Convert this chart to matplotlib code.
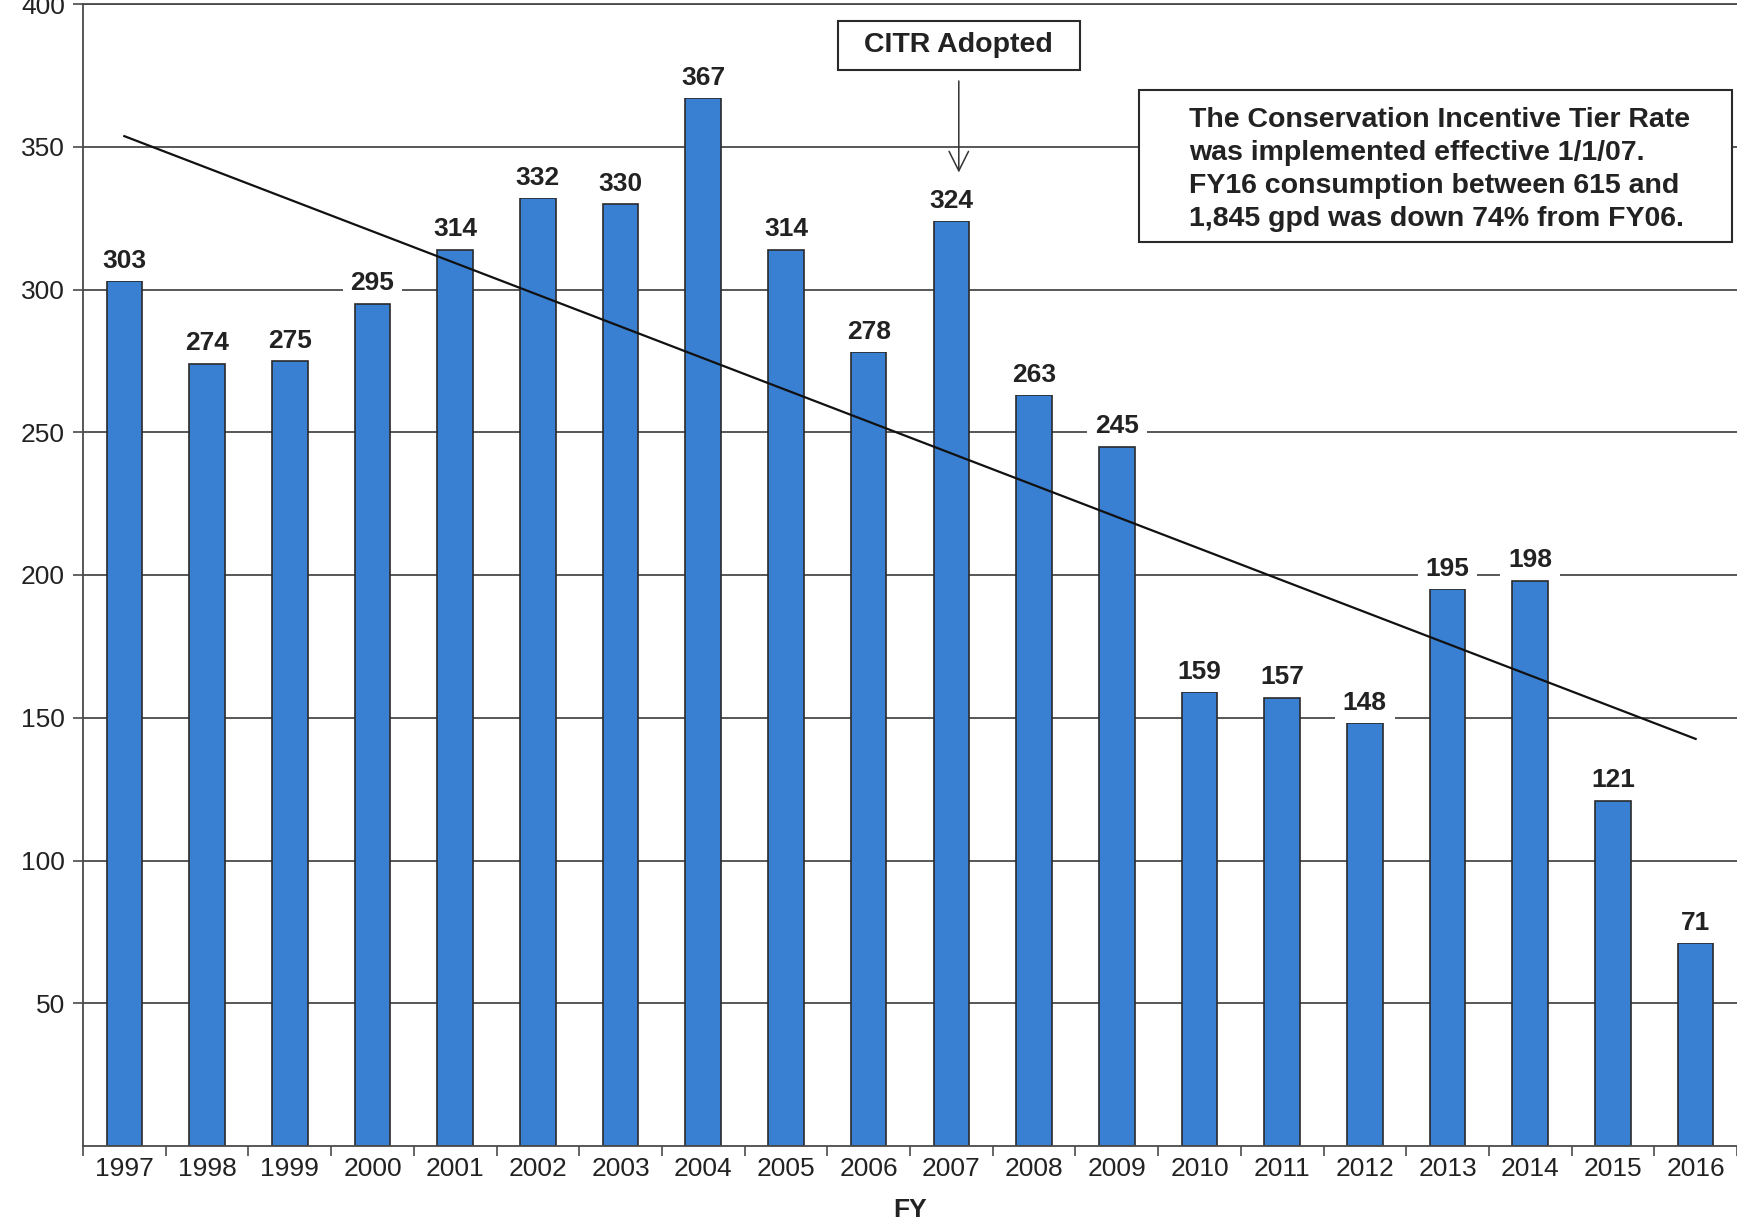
import matplotlib
matplotlib.use("Agg")
import matplotlib.pyplot as plt
from matplotlib.patches import Rectangle
import numpy as np

years = ["1997", "1998", "1999", "2000", "2001", "2002", "2003", "2004", "2005", "2006",
         "2007", "2008", "2009", "2010", "2011", "2012", "2013", "2014", "2015", "2016"]
values = [303, 274, 275, 295, 314, 332, 330, 367, 314, 278,
          324, 263, 245, 159, 157, 148, 195, 198, 121, 71]
yticks = [50, 100, 150, 200, 250, 300, 350, 400]

plt.rcParams['font.family'] = ['Liberation Sans', 'DejaVu Sans']

fig = plt.figure(figsize=(17.37, 12.22), dpi=100)
ax = fig.add_axes([83/1737, 76/1222, (1737-83)/1737, (1146-4)/1222])

x = np.arange(len(years))
gridc = '#4a4a4a'
ax.set_axisbelow(True)
ax.yaxis.grid(True, color=gridc, lw=1.3, zorder=0)
ax.bar(x, values, width=0.43, color='#3a80d2', edgecolor='#2a2a2a', lw=1.2, zorder=2)

# linear trend
coef = np.polyfit(x, values, 1)
ax.plot([x[0], x[-1]], np.polyval(coef, [x[0], x[-1]]), color='#111111', lw=1.6, zorder=3)

for xi, v in zip(x, values):
    ax.annotate(str(v), (xi, v), xytext=(0, 6), textcoords='offset points',
                ha='center', va='bottom', fontsize=19, fontweight='bold', color='#222222',
                bbox=dict(boxstyle='square,pad=0.3', fc='white', ec='none'), zorder=4)

ax.set_xlim(-0.5, len(years) - 0.5)
ax.set_ylim(0, 400)
ax.set_yticks(yticks)
ax.set_yticklabels([str(t) for t in yticks], fontsize=19, color='#222222')
ax.set_xticks(x)
ax.set_xticklabels(years, fontsize=19, color='#222222')
ax.set_xticks(np.arange(-0.5, len(years), 1), minor=True)
ax.tick_params(axis='x', which='major', length=0, pad=8)
ax.tick_params(axis='x', which='minor', length=7, width=1.2, color=gridc, direction='out')
ax.tick_params(axis='y', which='major', length=7, width=1.2, color=gridc, direction='out', pad=6)
ax.spines['right'].set_visible(False)
for s in ['left', 'bottom', 'top']:
    ax.spines[s].set_color(gridc)
    ax.spines[s].set_linewidth(1.3)

ax.set_xlabel('FY', fontsize=19, fontweight='bold', color='#222222', labelpad=12)

# CITR Adopted box + arrow
ax.add_patch(Rectangle((8.63, 377), 11.55 - 8.63, 394 - 377, fc='white', ec='#2a2a2a', lw=1.5, zorder=5))
ax.text(10.09, 385.5, 'CITR Adopted', ha='center', va='center', fontsize=20.5,
        fontweight='bold', color='#222222', zorder=6)
ax.annotate('', xy=(10.09, 340), xytext=(10.09, 374),
            arrowprops=dict(arrowstyle='->,head_length=0.7,head_width=0.35', lw=1.1,
                            color='#333333', mutation_scale=20), zorder=6)

# note box
ax.add_patch(Rectangle((12.27, 316.8), 19.44 - 12.27, 370 - 316.8, fc='white', ec='#2a2a2a', lw=1.5, zorder=5))
ax.text(12.87, 342.0,
        'The Conservation Incentive Tier Rate\nwas implemented effective 1/1/07.\n'
        'FY16 consumption between 615 and\n1,845 gpd was down 74% from FY06.',
        ha='left', va='center', fontsize=20.5, fontweight='bold', color='#222222',
        linespacing=1.34, zorder=6)

fig.savefig('out.png', dpi=100)
